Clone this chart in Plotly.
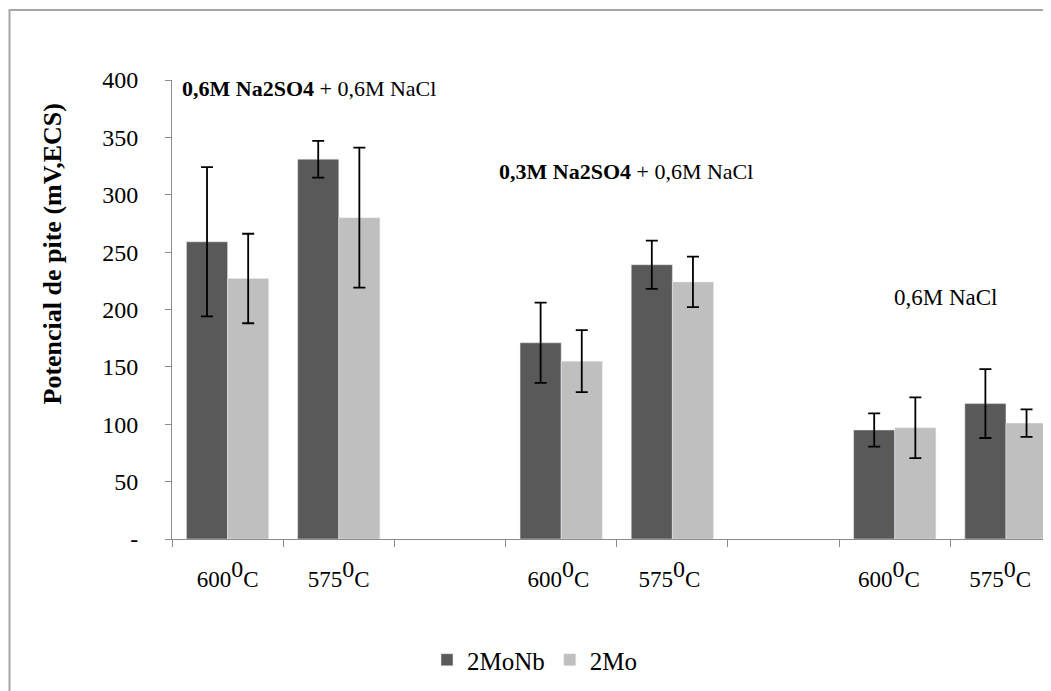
import plotly.graph_objects as go

SUP0 = '<sup><span style="font-size:24px">0</span></sup>'
categories = ["600" + SUP0 + "C", "575" + SUP0 + "C", " ",
              "600" + SUP0 + "C ", "575" + SUP0 + "C ", "  ",
              "600" + SUP0 + "C  ", "575" + SUP0 + "C  "]
mo_nb = [259, 331, None, 171, 239, None, 95, 118]
mo_nb_err = [65, 16, None, 35, 21, None, 14.5, 30]
mo = [227, 280, None, 155, 224, None, 97, 101]
mo_err = [39, 61, None, 27, 22, None, 26.5, 12]
y_ticks = [0, 50, 100, 150, 200, 250, 300, 350, 400]
y_ticktext = ["-", "50", "100", "150", "200", "250", "300", "350", "400"]

FONT = "Liberation Serif, Times New Roman, serif"

fig = go.Figure()
fig.add_trace(go.Bar(
    name="2MoNb", x=categories, y=mo_nb, marker_color="#595959",
    error_y=dict(type="data", array=mo_nb_err, color="black", thickness=1.8, width=6),
))
fig.add_trace(go.Bar(
    name="2Mo", x=categories, y=mo, marker_color="#BFBFBF",
    error_y=dict(type="data", array=mo_err, color="black", thickness=1.8, width=6),
))

# page body has an 8px margin: figure drawn at (8,8)
fig.update_layout(
    width=1043, height=683,
    margin=dict(l=164, r=0, t=72, b=152),
    paper_bgcolor="white", plot_bgcolor="white",
    barmode="group", bargap=0.26, bargroupgap=0,
    font=dict(family=FONT, size=22, color="black"),
    showlegend=True,
    legend=dict(orientation="h", x=(535 - 172) / 879, xanchor="center",
                y=-(660 - 539) / 459, yanchor="middle",
                font=dict(family=FONT, size=25), itemwidth=30, traceorder="normal"),
    xaxis=dict(
        type="category", range=[-0.5, 7.405],
        showline=True, linecolor="#8C8C8C", linewidth=1,
        ticks="outside", tickson="boundaries", ticklen=7, tickcolor="#8C8C8C",
        showgrid=False, ticklabelstandoff=19,
        tickfont=dict(family=FONT, size=23),
    ),
    yaxis=dict(
        range=[0, 400], tickvals=y_ticks, ticktext=y_ticktext,
        showline=True, linecolor="#8C8C8C", linewidth=1,
        ticks="outside", ticklen=6, tickcolor="#8C8C8C",
        showgrid=False, zeroline=False, ticklabelstandoff=22,
        tickfont=dict(family=FONT, size=24),
    ),
)

fig.add_annotation(
    text="<b>Potencial de pite (mV,ECS)</b>", textangle=-90,
    xref="paper", yref="paper", x=(35 - 172) / 879, y=(539 - 254) / 459,
    showarrow=False, font=dict(family=FONT, size=26),
)
fig.add_annotation(
    text="<b>0,6M Na2SO4</b> + 0,6M NaCl", xref="paper", yref="paper",
    x=(180 - 172) / 879, y=(539 - 88) / 459, xanchor="left", yanchor="middle",
    showarrow=False, font=dict(family=FONT, size=22),
)
fig.add_annotation(
    text="<b>0,3M Na2SO4</b> + 0,6M NaCl", xref="paper", yref="paper",
    x=(497 - 172) / 879, y=(539 - 171) / 459, xanchor="left", yanchor="middle",
    showarrow=False, font=dict(family=FONT, size=22),
)
fig.add_annotation(
    text="0,6M NaCl", xref="paper", yref="paper",
    x=(892 - 172) / 879, y=(539 - 297) / 459, xanchor="left", yanchor="middle",
    showarrow=False, font=dict(family=FONT, size=23),
)

# outer chart frame (left edge as close to the page edge as the body margin allows)
fig.add_shape(type="rect", xref="paper", yref="paper",
              x0=(9.5 - 172) / 879, x1=(1060 - 172) / 879,
              y0=(539 - 700) / 459, y1=(539 - 10) / 459,
              line=dict(color="#A6A6A6", width=2), fillcolor="rgba(0,0,0,0)", layer="below")

fig.write_html("out.html")
